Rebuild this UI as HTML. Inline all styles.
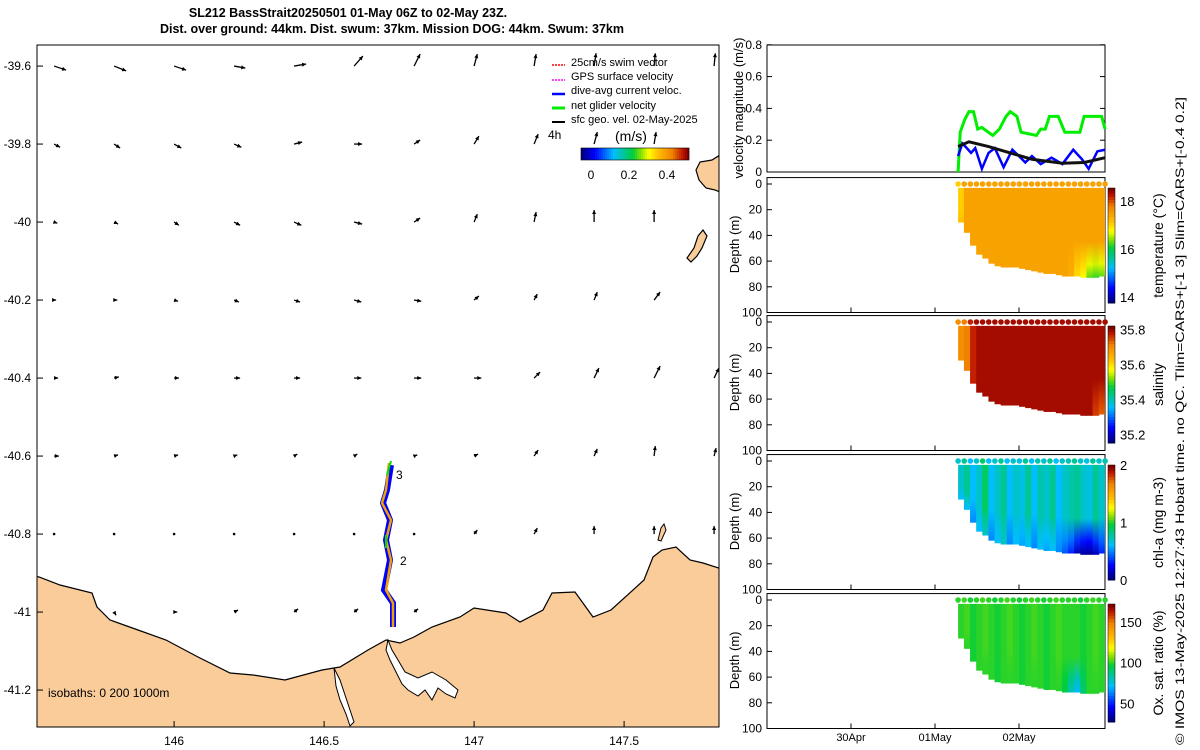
<!DOCTYPE html>
<html><head><meta charset="utf-8"><style>
html,body{margin:0;padding:0;background:#fff;}
svg{display:block;font-family:"Liberation Sans",sans-serif;}
</style></head><body>
<svg id="fig" width="1200" height="750" viewBox="0 0 1200 750" xmlns="http://www.w3.org/2000/svg">
<defs><clipPath id="mapclip"><rect x="37" y="45" width="682" height="682"/></clipPath></defs>
<text x="348" y="17" font-size="12.5" font-weight="bold" text-anchor="middle">SL212 BassStrait20250501 01-May 06Z to 02-May 23Z.</text>
<text x="392" y="33" font-size="12.5" font-weight="bold" text-anchor="middle">Dist. over ground: 44km. Dist. swum: 37km. Mission DOG: 44km. Swum: 37km</text>
<g id="map">
 <rect x="37" y="45" width="682" height="682" fill="#fff"/>
 <g clip-path="url(#mapclip)">
  <path fill="#f9cc9a" stroke="#000" stroke-width="1.2" d="M30,575 L39,577 L60,585 L92,593 L97,607 L110,620 L138,630 L166,640 L198,657 L230,673 L253,675 L285,680 L322,670 L340,667 L368,650 L386,640 L400,643 L414,637 L432,627 L460,617 L474,608 L506,613 L520,622 L543,610 L552,593 L575,592 L593,617 L611,610 L644,580 L653,557 L662,550 L676,547 L690,560 L703,563 L725,570 L725,735 L30,735 Z"/>
  <path fill="#fff" stroke="#000" stroke-width="1" d="M388,640 L392,650 L398,660 L405,672 L418,678 L432,672 L446,680 L458,690 L455,698 L446,694 L438,688 L432,700 L425,690 L418,696 L408,690 L402,684 L396,672 L390,660 L386,650 Z"/>
  <path fill="#fff" stroke="#000" stroke-width="1" d="M334,668 L340,680 L345,695 L350,710 L354,722 L350,726 L346,714 L340,700 L336,686 Z"/>
  <path fill="#f9cc9a" stroke="#000" stroke-width="1.2" d="M720,155 L712,160 L700,162 L696,170 L699,180 L706,188 L715,190 L720,192 Z"/>
  <path fill="#f9cc9a" stroke="#000" stroke-width="1.2" d="M703,230 L707,236 L702,248 L697,256 L691,262 L687,258 L694,248 L698,236 Z"/>
  <path fill="#f9cc9a" stroke="#000" stroke-width="1" d="M664,524 L666,530 L661,541 L658,540 L661,528 Z"/>
  <g id="arrows"></g>
  <path fill="none" stroke="#0000ff" stroke-width="6" d="M391,465 L387,490 L383,503 L390,520 L386,540 L390,560 L384,590 L393,603 L393,627"/>
  <path fill="none" stroke="#f0a000" stroke-width="2.5" d="M389,463 L386,490 L382,503 L391,520 L386,540 L391,560 L386,590 L393,603 L393,627"/>
  <path fill="none" stroke="#00e000" stroke-width="2" d="M391,461 L387,475 M386,535 L386,548"/>
  <text x="396" y="479" font-size="12">3</text>
  <text x="400" y="565" font-size="12">2</text>
  <text x="48" y="697" font-size="12">isobaths: 0   200  1000m</text>
 </g>
 <rect x="37" y="45" width="682" height="682" fill="none" stroke="#000" stroke-width="1"/>
 <g id="mapticks" font-size="12"></g>
 <g id="legend" font-size="11">
  <line x1="552" y1="65" x2="565" y2="65" stroke="#f00" stroke-width="1.5" stroke-dasharray="2,1"/><text x="571" y="66">25cm/s swim vector</text>
  <line x1="552" y1="80" x2="565" y2="80" stroke="#f0f" stroke-width="1.5" stroke-dasharray="2,1"/><text x="571" y="80">GPS surface velocity</text>
  <line x1="552" y1="94" x2="565" y2="94" stroke="#00f" stroke-width="2.5"/><text x="571" y="94">dive-avg current veloc.</text>
  <line x1="552" y1="108" x2="565" y2="108" stroke="#0e0" stroke-width="3"/><text x="571" y="109">net glider velocity</text>
  <line x1="552" y1="122" x2="565" y2="122" stroke="#000" stroke-width="2"/><text x="571" y="123">sfc geo. vel. 02-May-2025</text>
  <text x="548" y="139" font-size="12">4h</text>
  <text x="615" y="141" font-size="14">(m/s)</text>
  <g id="mapcbar"></g>
  <text x="591" y="179" font-size="12" text-anchor="middle">0</text>
  <text x="629" y="179" font-size="12" text-anchor="middle">0.2</text>
  <text x="667" y="179" font-size="12" text-anchor="middle">0.4</text>
 </g>
</g>
<g id="right" font-size="11"></g>
<text transform="translate(1184,745) rotate(-90)" font-size="12" textLength="648" lengthAdjust="spacingAndGlyphs">© IMOS 13-May-2025 12:27:43 Hobart time. no QC. Tlim=CARS+[-1 3] Slim=CARS+[-0.4 0.2]</text>
</svg>
<script>
// ---------- data ----------
const arrowLons=[145.6,145.8,146.0,146.2,146.4,146.6,146.8,147.0,147.2,147.4,147.6,147.8];
const arrowLats=[-39.6,-39.8,-40.0,-40.2,-40.4,-40.6,-40.8,-41.0];
const arrowU=[
[0.30,0.30,0.30,0.28,0.30,0.22,0.15,0.08,0.05,0.05,0.03,0.03],
[0.15,0.15,0.18,0.18,0.20,0.20,0.15,0.12,0.10,0.08,0.05,null],
[0.08,0.10,0.12,0.15,0.18,0.20,0.15,0.08,0.05,0.0,0.0,null],
[0.05,0.08,0.10,0.12,0.15,0.18,0.18,0.12,0.08,0.08,0.15,null],
[0.10,0.12,0.12,0.15,0.15,0.18,0.18,0.18,0.15,0.12,0.15,0.12],
[0.12,0.10,0.10,0.08,0.08,0.08,0.08,0.10,0.10,0.08,0.03,0.05],
[0.03,0.0,0.03,0.03,0.0,0.0,0.03,0.08,0.08,0.0,0.0,0.0],
[null,0.05,0.08,0.10,0.10,0.10,0.10,null,null,null,null,null]];
const arrowV=[
[-0.10,-0.12,-0.10,-0.05,0.05,0.25,0.30,0.30,0.30,0.32,0.32,0.32],
[-0.08,-0.10,-0.10,-0.08,0.05,0.0,0.10,0.20,0.25,0.30,0.30,null],
[-0.03,-0.05,-0.08,-0.08,-0.08,-0.05,0.10,0.20,0.25,0.30,0.30,null],
[0,0,-0.03,-0.05,-0.05,-0.05,-0.03,0.10,0.15,0.20,0.20,null],
[0,0.03,0,0,0,0,0,0,0.15,0.25,0.30,0.25],
[0,0.03,0.03,0.03,0.05,0.05,0.03,0.05,0.15,0.18,0.25,0.20],
[0,0,0,0,0,0,0,0.10,0.15,0.20,0.20,0.20],
[null,-0.08,0,0.05,0.08,0.08,0.08,null,null,null,null,null]];
const lonTicks=[146,146.5,147,147.5];
const latTicks=[-39.6,-39.8,-40,-40.2,-40.4,-40.6,-40.8,-41,-41.2];

const velGreenT=[6.6,7.2,8.5,9.7,11.0,12.2,13.4,16.5,18.4,20.3,21.5,23.4,24.6,29.0,30.2,31.5,32.7,35.2,37.1,41.4,42.6,47.6,48.6];
const velGreen=[0.0,0.25,0.33,0.38,0.38,0.27,0.28,0.23,0.27,0.35,0.38,0.35,0.25,0.23,0.27,0.27,0.35,0.35,0.25,0.25,0.35,0.35,0.27];
const velBlueT=[6.6,7.8,9.1,10.3,11.5,13.4,15.3,17.1,19.6,22.1,24.0,25.8,27.7,30.2,33.3,36.4,39.5,42.0,43.9,46.4,48.6];
const velBlue=[0.10,0.18,0.15,0.12,0.15,0.02,0.12,0.15,0.03,0.14,0.10,0.06,0.10,0.05,0.09,0.05,0.14,0.08,0.02,0.13,0.14];
const velBlackT=[6.6,9.7,15.3,21.5,27.7,36.4,42.6,48.6];
const velBlack=[0.16,0.19,0.16,0.12,0.08,0.055,0.06,0.09];

const profT=[6.6,8.35,10.1,11.85,13.6,15.35,17.1,18.85,20.6,22.35,24.1,25.85,27.6,29.35,31.1,32.85,34.6,36.35,38.1,39.85,41.6,43.35,45.1,46.85,48.6];
const profBottom=[30,38,48,55,58,62,64,65,65,65,66,67,68,69,70,70,71,72,72,72,73,73,73,72,72];
const tempTop=[17.1,17.5,17.5,17.5,17.5,17.5,17.5,17.5,17.5,17.5,17.5,17.5,17.5,17.5,17.5,17.5,17.5,17.5,17.5,17.5,17.5,17.5,17.5,17.5,17.5];
const tempBot=[17.2,17.5,17.5,17.5,17.5,17.5,17.5,17.5,17.5,17.5,17.5,17.5,17.5,17.5,17.5,17.5,17.5,17.5,17.4,17.0,16.8,16.3,16.2,16.3,16.5];
const salTop=[35.70,35.72,35.78,35.80,35.80,35.80,35.80,35.80,35.80,35.80,35.80,35.80,35.80,35.80,35.80,35.80,35.80,35.80,35.80,35.80,35.80,35.80,35.80,35.80,35.80];
const salBot=[35.70,35.72,35.78,35.80,35.80,35.80,35.80,35.80,35.80,35.80,35.80,35.80,35.80,35.80,35.80,35.80,35.80,35.80,35.80,35.80,35.80,35.80,35.76,35.74,35.74];
const chlTop=[0.7,0.8,0.6,0.7,0.9,0.6,0.7,0.8,0.6,0.7,0.65,0.8,0.6,0.75,0.7,0.8,0.6,0.7,0.75,0.8,0.7,0.65,0.8,0.7,0.75];
const chlBot=[0.6,0.6,0.5,0.6,0.7,0.5,0.6,0.7,0.5,0.6,0.55,0.6,0.5,0.6,0.55,0.6,0.5,0.4,0.3,0.1,0.05,0.05,0.1,0.3,0.5];
const oxTop=[100,102,98,100,102,100,98,100,102,100,98,100,102,100,98,100,102,100,100,100,98,100,102,100,100];
const oxBot=[100,100,98,100,100,100,98,100,100,100,98,100,100,100,98,100,100,95,80,70,90,100,100,100,100];
const timeTicks=[-24,0,24];
const timeLabels=["30Apr","01May","02May"];

// ---------- helpers ----------
const NS="http://www.w3.org/2000/svg";
function mk(tag,attrs,parent){const e=document.createElementNS(NS,tag);for(const k in attrs)e.setAttribute(k,attrs[k]);parent.appendChild(e);return e;}
const lonX=l=>37+(l-145.543)*300;
const latY=l=>45+(-39.546-l)*390;
const stops=[[0,[0,0,128]],[0.12,[0,0,255]],[0.3,[0,190,255]],[0.48,[0,205,60]],[0.56,[140,225,0]],[0.63,[255,255,0]],[0.72,[255,190,0]],[0.85,[240,130,0]],[0.95,[190,20,0]],[1,[128,0,0]]];
function cmap(f){f=Math.max(0,Math.min(1,f));for(let i=1;i<stops.length;i++){if(f<=stops[i][0]){const a=stops[i-1],b=stops[i],t=(f-a[0])/(b[0]-a[0]);const c=a[1].map((v,j)=>Math.round(v+(b[1][j]-v)*t));return `rgb(${c})`;}}return 'rgb(128,0,0)';}

// ---------- map ----------
const ag=document.getElementById('arrows');
const S=40;
arrowLats.forEach((la,i)=>arrowLons.forEach((lo,j)=>{
 const u=arrowU[i][j],v=arrowV[i][j]; if(u===null||v===null)return;
 const x0=lonX(lo),y0=latY(la),x1=x0+u*S,y1=y0-v*S;
 const g=mk('g',{},ag);
 
 
 const len=Math.hypot(x1-x0,y1-y0);
 if(len<1.5){mk('circle',{cx:x0,cy:y0,r:1.3,fill:'#000'},g);return;}
 mk('line',{x1:x0,y1:y0,x2:x1,y2:y1,stroke:'#000','stroke-width':1.3},g);
 const ux=(x1-x0)/len,uy=(y1-y0)/len;
 mk('polygon',{points:`${x1},${y1} ${x1-4*ux-2*uy},${y1-4*uy+2*ux} ${x1-4*ux+2*uy},${y1-4*uy-2*ux}`,fill:'#000'},g);
}));
const mt=document.getElementById('mapticks');
lonTicks.forEach(l=>{const x=lonX(l);mk('line',{x1:x,y1:727,x2:x,y2:721,stroke:'#000'},mt);
 const t=mk('text',{x:x,y:745,'text-anchor':'middle'},mt);t.textContent=String(l);
 });
latTicks.forEach(l=>{const y=latY(l);mk('line',{x1:37,y1:y,x2:43,y2:y,stroke:'#000'},mt);
 const t=mk('text',{x:31,y:y+4,'text-anchor':'end'},mt);t.textContent=String(l);
 });
const mc=document.getElementById('mapcbar');
for(let i=0;i<54;i++)mk('rect',{x:581+i*2,y:148,width:2.2,height:12,fill:cmap(i/53)},mc);
mk('rect',{x:581,y:148,width:108,height:12,fill:'none',stroke:'#000','stroke-width':0.6},mc);

// ---------- right panels ----------
const R=document.getElementById('right');
const X0=767,X1=1105;
const tX=h=>935+h*3.5;
const vY=v=>172-v*159;
const vp=mk('g',{},R);


mk('rect',{x:X0,y:45,width:X1-X0,height:127,fill:'#fff',stroke:'#000'},vp);
[0,0.2,0.4,0.6,0.8].forEach(v=>{const y=vY(v);mk('line',{x1:X0,y1:y,x2:X0+5,y2:y,stroke:'#000'},vp);mk('line',{x1:X1,y1:y,x2:X1-5,y2:y,stroke:'#000'},vp);
 const t=mk('text',{x:X0-5,y:y+4,'text-anchor':'end','font-size':12},vp);t.textContent=String(v);});
const vt=mk('text',{transform:'translate(743,108) rotate(-90)','text-anchor':'middle','font-size':13},vp);vt.textContent='velocity magnitude (m/s)';
function line(ts,vs,col,w,name){const p=mk('polyline',{points:ts.map((t,i)=>`${tX(t)},${vY(vs[i])}`).join(' '),fill:'none',stroke:col,'stroke-width':w},vp);
 }
line(velGreenT,velGreen,'#00ee00',3,'net-glider-velocity-line');
line(velBlueT,velBlue,'#0000ff',2.5,'dive-avg-current-line');
line(velBlackT,velBlack,'#111',3,'sfc-geo-velocity-line');

const panels=[
 {name:'temperature',top:tempTop,bot:tempBot,y0:184,lo:13.75,hi:18.55,ticks:[14,16,18],label:'temperature (°C)',cy0:188,cy1:303},
 {name:'salinity',top:salTop,bot:salBot,y0:322,lo:35.15,hi:35.82,ticks:[35.2,35.4,35.6,35.8],label:'salinity',cy0:326,cy1:443},
 {name:'chl-a',top:chlTop,bot:chlBot,y0:461,lo:0,hi:2,ticks:[0,1,2],label:'chl-a (mg m-3)',cy0:465,cy1:580},
 {name:'oxygen',top:oxTop,bot:oxBot,y0:600,lo:27,hi:172,ticks:[50,100,150],label:'Ox. sat. ratio (%)',cy0:604,cy1:722}];
panels.forEach((P,pi)=>{
 const g=mk('g',{},R);
 
 
 const dY=d=>P.y0+d*1.285;
 const f=v=>(v-P.lo)/(P.hi-P.lo);
 mk('rect',{x:X0,y:dY(-5),width:X1-X0,height:dY(100)-dY(-5),fill:'#fff',stroke:'#000'},g);
 const gid='gr'+pi;const defs=mk('defs',{},g);
 profT.forEach((t,i)=>{
  const xa=tX(t)-(i===0?0:0.3), xb=i<profT.length-1?tX(profT[i+1])+0.3:X1;
  const lg=mk('linearGradient',{id:gid+'_'+i,x1:0,y1:0,x2:0,y2:1},defs);
  mk('stop',{offset:0,'stop-color':cmap(f(P.top[i]))},lg);
  mk('stop',{offset:0.6,'stop-color':cmap(f(P.top[i]))},lg);
  mk('stop',{offset:0.85,'stop-color':cmap(f((P.top[i]+P.bot[i]*2)/3))},lg);
  mk('stop',{offset:1,'stop-color':cmap(f(P.bot[i]))},lg);
  const r=mk('rect',{x:xa,y:dY(3),width:Math.min(xb,X1)-xa,height:dY(profBottom[i])-dY(3),fill:`url(#${gid}_${i})`},g);
  
  
  const c=mk('circle',{cx:tX(t),cy:dY(0),r:2.8,fill:cmap(f(P.top[i]))},g);
  
  
 });
 [0,20,40,60,80,100].forEach(d=>{const y=dY(d);mk('line',{x1:X0,y1:y,x2:X0+5,y2:y,stroke:'#000'},g);
  const t=mk('text',{x:X0-5,y:y+4,'text-anchor':'end','font-size':12},g);t.textContent=String(d);});
 timeTicks.forEach(h=>{mk('line',{x1:tX(h),y1:dY(100),x2:tX(h),y2:dY(100)-5,stroke:'#000'},g);});
 const yl=mk('text',{transform:`translate(739,${dY(47)}) rotate(-90)`,'text-anchor':'middle','font-size':13},g);yl.textContent='Depth (m)';
 const n=40,h=P.cy1-P.cy0;
 for(let k=0;k<n;k++)mk('rect',{x:1108,y:P.cy1-(k+1)*h/n,width:7,height:h/n+0.5,fill:cmap(k/(n-1))},g);
 mk('rect',{x:1108,y:P.cy0,width:7,height:h,fill:'none',stroke:'#000','stroke-width':0.5},g);
 P.ticks.forEach(v=>{const y=P.cy1-f(v)*h;const t=mk('text',{x:1120,y:y+5,'font-size':13},g);t.textContent=String(v);});
 const cl=mk('text',{transform:`translate(1163,${(P.cy0+P.cy1)/2}) rotate(-90)`,'text-anchor':'middle','font-size':14},g);cl.textContent=P.label;
});
timeTicks.forEach((h,i)=>{const t=mk('text',{x:tX(h),y:741,'text-anchor':'middle','font-size':11},R);t.textContent=timeLabels[i];
 });
</script>
</body></html>
